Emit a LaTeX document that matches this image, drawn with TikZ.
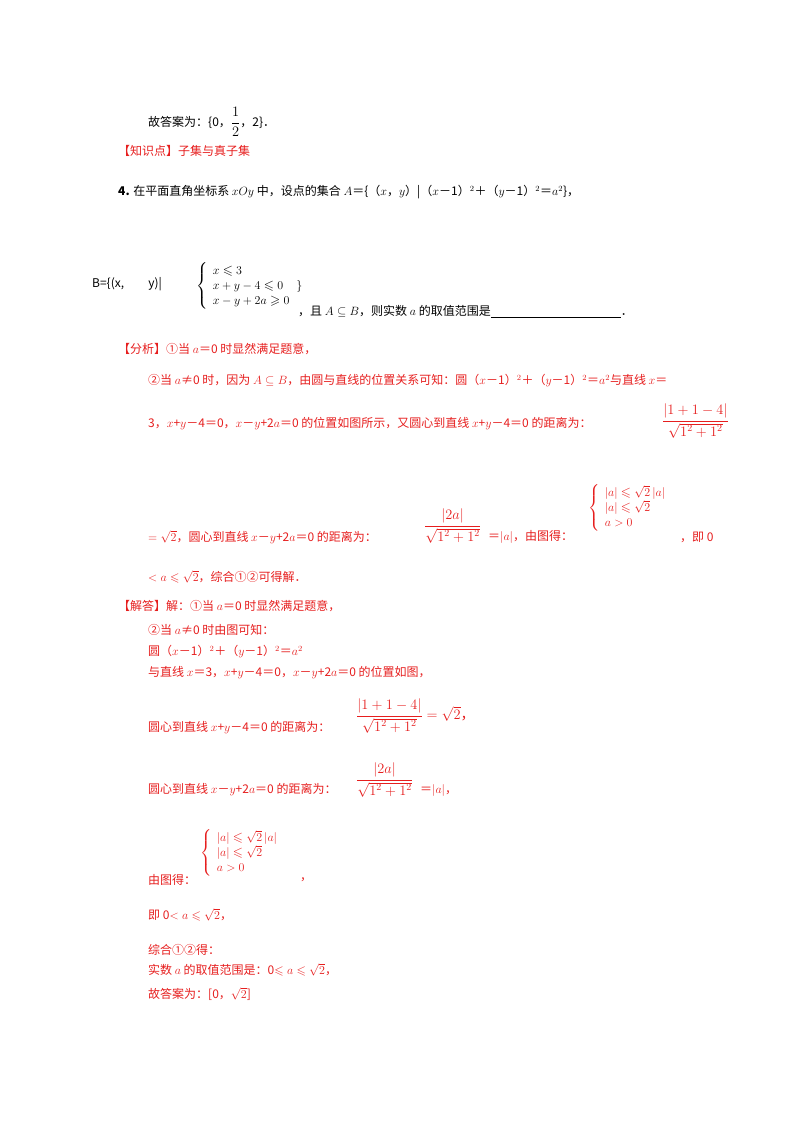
\documentclass[tikz,border=0pt]{standalone}
\usepackage{fontspec}
\usepackage{amsmath,amssymb}
\newfontfamily\cjk{Noto Sans CJK SC}
\definecolor{rd}{RGB}{230,30,30}
\tikzset{t/.style={anchor=west,inner sep=0pt,font=\cjk\fontsize{12}{14}\selectfont},r/.style={t,text=rd},
 fr/.style={r,font=\cjk\fontsize{14}{16}\selectfont}}
\begin{document}
\begin{tikzpicture}[x=1pt,y=-1pt]
\useasboundingbox (0,0) rectangle (800,1132);
\node[t] (a1) at (148,122) {故答案为：\{0，{\Large$\dfrac{1}{2}$}，2\}．};
\node[r] (a2) at (118,151) {【知识点】子集与真子集};
\node[t] (q1) at (118,192) {\textbf{4.} 在平面直角坐标系 $xOy$ 中，设点的集合 $A$＝\{（$x$，$y$）|（$x$－1）$^2$＋（$y$－1）$^2$＝$a^2$\}，};
\node[t] (q2) at (92,284) {B=\{(x,\qquad y)|};
\node[t,font=\cjk\fontsize{13}{15}\selectfont] (q3) at (196,286) {$\left\{\begin{array}{l}x\leqslant 3\\ x+y-4\leqslant 0\quad\}\\ x-y+2a\geqslant 0\end{array}\right.$};
\node[t] (q4) at (298,312) {，且 $A\subseteq B$，则实数 $a$ 的取值范围是\underline{\hspace{130pt}}．};
\node[r] (f1) at (118,349) {【分析】①当 $a$＝0 时显然满足题意，};
\node[r] (f2) at (148,381) {②当 $a$≠0 时，因为 $A\subseteq B$，由圆与直线的位置关系可知：圆（$x$－1）$^2$＋（$y$－1）$^2$＝$a^2$与直线 $x$＝};
\node[r] (f3) at (148,424) {3，$x$+$y$－4＝0，$x$－$y$+2$a$＝0 的位置如图所示，又圆心到直线 $x$+$y$－4＝0 的距离为：};
\node[fr] (f3b) at (662,421) {$\dfrac{|1+1-4|}{\sqrt{1^2+1^2}}$};
\node[r] (f4) at (148,537) {$=\sqrt2$，圆心到直线 $x$－$y$+2$a$＝0 的距离为：};
\node[fr] (f4b) at (424,526) {$\dfrac{|2a|}{\sqrt{1^2+1^2}}$};
\node[r] (f4e) at (488,537) {＝$|a|$，由图得：};
\node[r,font=\cjk\fontsize{13}{15}\selectfont] (f4c) at (588,508) {$\left\{\begin{array}{l}|a|\leqslant\sqrt2\,|a|\\ |a|\leqslant\sqrt2\\ a>0\end{array}\right.$};
\node[r] (f4d) at (680,537) {，即 0};
\node[r] (f5) at (148,577) {$<a\leqslant\sqrt2$，综合①②可得解．};
\node[r] (j1) at (118,606) {【解答】解：①当 $a$＝0 时显然满足题意，};
\node[r] (j2) at (148,630) {②当 $a$≠0 时由图可知：};
\node[r] (j3) at (148,652) {圆（$x$－1）$^2$＋（$y$－1）$^2$＝$a^2$};
\node[r] (j4) at (148,673) {与直线 $x$＝3，$x$+$y$－4＝0，$x$－$y$+2$a$＝0 的位置如图，};
\node[r] (j5) at (148,728) {圆心到直线 $x$+$y$－4＝0 的距离为：};
\node[fr] (j5b) at (356,716) {$\dfrac{|1+1-4|}{\sqrt{1^2+1^2}}=\sqrt2$，};
\node[r] (j6) at (148,790) {圆心到直线 $x$－$y$+2$a$＝0 的距离为：};
\node[fr] (j6b) at (356,780) {$\dfrac{|2a|}{\sqrt{1^2+1^2}}$};
\node[r] (j6c) at (420,790) {＝$|a|$，};
\node[r] (j7) at (148,880) {由图得：};
\node[r,font=\cjk\fontsize{13}{15}\selectfont] (j7b) at (200,853) {$\left\{\begin{array}{l}|a|\leqslant\sqrt2\,|a|\\ |a|\leqslant\sqrt2\\ a>0\end{array}\right.$};
\node[r] (j7c) at (300,880) {，};
\node[r] (j8) at (148,915) {即 0$<a\leqslant\sqrt2$，};
\node[r] (j9) at (148,950) {综合①②得：};
\node[r] (j10) at (148,970) {实数 $a$ 的取值范围是：0$\leqslant a\leqslant\sqrt2$，};
\node[r] (j11) at (148,994) {故答案为：[0，$\sqrt2$]};
\end{tikzpicture}
\end{document}
